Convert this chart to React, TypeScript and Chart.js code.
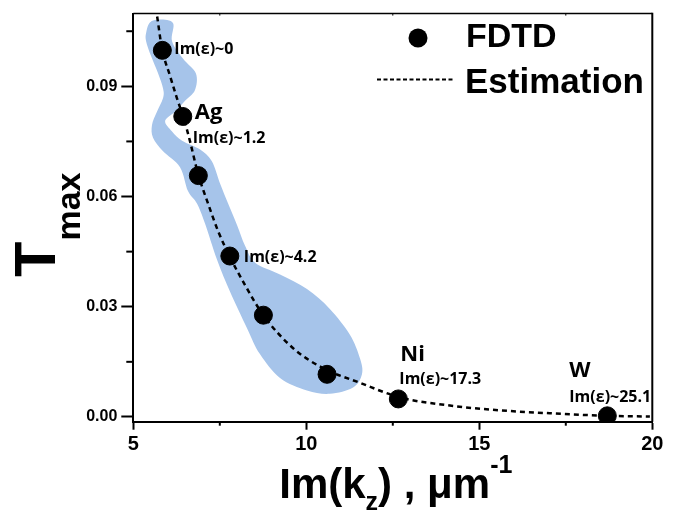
import React, { useEffect, useRef } from "react";
import { Chart, registerables } from "chart.js";

Chart.register(...registerables);

// ---- data ----
const fdtdX = [5.84, 6.43, 6.88, 7.79, 8.76, 10.6, 12.66, 18.7];
const fdtdY = [0.0998, 0.0818, 0.0657, 0.0438, 0.0277, 0.0116, 0.0049, 0.0003];

const estX = [5.69, 5.83, 6.06, 6.26, 6.47, 6.64, 6.87, 7.16, 7.45, 7.8, 8.23, 8.75, 9.62, 10.48, 11.55, 12.71, 14.15, 15.6, 17.04, 18.69, 19.93];
const estY = [0.109, 0.1002, 0.0929, 0.0868, 0.0809, 0.075, 0.0662, 0.0581, 0.0506, 0.0434, 0.0359, 0.0278, 0.0187, 0.0133, 0.0093, 0.0053, 0.0031, 0.0018, 0.001, 0.0003, 0.0001];

// shaded (blue) region outline
const regionX = [5.37, 5.48, 5.77, 6.15, 6.12, 6.44, 6.81, 6.78, 6.49, 6.23, 5.92, 6.12, 6.41, 6.93, 7.27, 7.51, 7.74, 8.0, 8.23, 8.52, 9.24, 10.02, 10.68, 11.26, 11.55, 11.61, 11.35, 10.68, 10.02, 9.24, 8.66, 8.29, 7.8, 7.42, 7.07, 6.84, 6.58, 6.35, 5.86, 5.57, 5.54, 5.68, 5.86, 5.86, 5.71, 5.51, 5.37];
const regionY = [0.1045, 0.1074, 0.1082, 0.1072, 0.1023, 0.0975, 0.0935, 0.0889, 0.086, 0.0833, 0.0806, 0.0777, 0.0752, 0.0728, 0.0696, 0.0635, 0.0581, 0.0522, 0.0466, 0.042, 0.0388, 0.0348, 0.0294, 0.0224, 0.016, 0.0117, 0.008, 0.0063, 0.0072, 0.0106, 0.0171, 0.0241, 0.034, 0.0428, 0.0527, 0.0581, 0.0615, 0.068, 0.0723, 0.076, 0.0795, 0.083, 0.0868, 0.0894, 0.0937, 0.0983, 0.1023];

const xTicks = [5, 10, 15, 20];
const yTicks = [0, 0.03, 0.06, 0.09];
const xMinor = [7.5, 12.5, 17.5];
const yMinor = [0.015, 0.045, 0.075, 0.105];

const seriesNames = ["FDTD", "Estimation"];

// annotation texts, attached to FDTD point index
const annotTexts = ["Im(ε)~0", "Ag", "Im(ε)~1.2", "Im(ε)~4.2", "Ni", "Im(ε)~17.3", "W", "Im(ε)~25.1"];
const annotPoint = [0, 1, 1, 3, 6, 6, 7, 7];

// ---- layout/style (not data) ----
const annotLayout = [
  { dx: 12, dy: 4, size: 16 },
  { dx: 12, dy: 3, size: 22 },
  { dx: 10, dy: 27, size: 16 },
  { dx: 14, dy: 6, size: 16 },
  { dx: 2, dy: -38, size: 22 },
  { dx: 1, dy: -15, size: 16 },
  { dx: -38, dy: -39, size: 22 },
  { dx: -38, dy: -14, size: 16 },
];

const SANS = "'Liberation Sans', Arial, sans-serif";
const ANN = "'Open Sans', 'DejaVu Sans', sans-serif";

function closedSpline(ctx: CanvasRenderingContext2D, pts: number[][]) {
  const n = pts.length;
  ctx.moveTo(pts[0][0], pts[0][1]);
  for (let i = 0; i < n; i++) {
    const p0 = pts[(i - 1 + n) % n];
    const p1 = pts[i];
    const p2 = pts[(i + 1) % n];
    const p3 = pts[(i + 2) % n];
    const c1x = p1[0] + (p2[0] - p0[0]) / 6;
    const c1y = p1[1] + (p2[1] - p0[1]) / 6;
    const c2x = p2[0] - (p3[0] - p1[0]) / 6;
    const c2y = p2[1] - (p3[1] - p1[1]) / 6;
    ctx.bezierCurveTo(c1x, c1y, c2x, c2y, p2[0], p2[1]);
  }
  ctx.closePath();
}

const overlay = {
  id: "overlay",
  beforeDatasetsDraw(chart: any) {
    const { ctx, chartArea, scales } = chart;
    const x = scales.x;
    const y = scales.y;
    const pts = regionX.map((v, i) => [x.getPixelForValue(v), y.getPixelForValue(regionY[i])]);
    ctx.save();
    ctx.beginPath();
    ctx.rect(chartArea.left, chartArea.top, chartArea.right - chartArea.left, chartArea.bottom - chartArea.top);
    ctx.clip();
    ctx.beginPath();
    closedSpline(ctx, pts);
    ctx.fillStyle = "rgb(166,196,234)";
    ctx.fill();
    ctx.restore();
  },
  afterDraw(chart: any) {
    const { ctx, chartArea, scales } = chart;
    const x = scales.x;
    const y = scales.y;
    const { left, right, top, bottom } = chartArea;
    ctx.save();
    // frame top/right
    ctx.strokeStyle = "#000";
    ctx.lineWidth = 1.5;
    ctx.beginPath();
    ctx.moveTo(left, top);
    ctx.lineTo(right, top);
    ctx.stroke();
    ctx.lineWidth = 2;
    ctx.beginPath();
    ctx.moveTo(right, top - 0.75);
    ctx.lineTo(right, bottom);
    ctx.stroke();
    // minor ticks
    ctx.lineWidth = 2;
    xMinor.forEach((v) => {
      const px = x.getPixelForValue(v);
      ctx.beginPath();
      ctx.moveTo(px, bottom);
      ctx.lineTo(px, bottom + 4);
      ctx.stroke();
      ctx.lineWidth = 1;
      ctx.beginPath();
      ctx.moveTo(px, top);
      ctx.lineTo(px, top + 2);
      ctx.stroke();
      ctx.lineWidth = 2;
    });
    yMinor.forEach((v) => {
      const py = y.getPixelForValue(v);
      ctx.beginPath();
      ctx.moveTo(left, py);
      ctx.lineTo(left - 7, py);
      ctx.stroke();
    });

    // annotations
    ctx.fillStyle = "#000";
    ctx.textBaseline = "alphabetic";
    ctx.textAlign = "left";
    annotTexts.forEach((t, i) => {
      const pi = annotPoint[i];
      const lay = annotLayout[i];
      const px = x.getPixelForValue(fdtdX[pi]);
      const py = y.getPixelForValue(fdtdY[pi]);
      ctx.font = `bold ${lay.size}px ${ANN}`;
      ctx.fillText(t, px + lay.dx, py + lay.dy);
    });

    // legend
    ctx.beginPath();
    ctx.arc(418, 38, 9.5, 0, Math.PI * 2);
    ctx.fill();
    ctx.font = `bold 34px ${SANS}`;
    ctx.fillText(seriesNames[0], 466, 47);
    ctx.setLineDash([4, 2.5]);
    ctx.lineWidth = 2;
    ctx.beginPath();
    ctx.moveTo(377, 79.5);
    ctx.lineTo(455, 79.5);
    ctx.stroke();
    ctx.setLineDash([]);
    ctx.font = `bold 35px ${SANS}`;
    ctx.fillText(seriesNames[1], 465, 93);

    // x title: Im(k_z) , μm^-1
    const base = 498;
    const big = `bold 42px ${SANS}`;
    const small = `bold 25px ${SANS}`;
    const parts = [
      { t: "Im(k", f: big, dy: 0 },
      { t: "z", f: small, dy: 12 },
      { t: ") , μm", f: big, dy: 0 },
      { t: "-1", f: small, dy: -25 },
    ];
    let total = 0;
    parts.forEach((p) => {
      ctx.font = p.f;
      total += ctx.measureText(p.t).width;
    });
    let cx = (left + right) / 2 - total / 2 + 3;
    parts.forEach((p) => {
      ctx.font = p.f;
      ctx.fillText(p.t, cx, base + p.dy);
      cx += ctx.measureText(p.t).width;
    });

    // y title: T_max (rotated)
    ctx.save();
    ctx.translate(55, 277);
    ctx.rotate(-Math.PI / 2);
    ctx.font = `bold 58px ${SANS}`;
    ctx.fillText("T", 0, 0);
    const wT = ctx.measureText("T").width;
    ctx.font = `bold 34px ${SANS}`;
    ctx.fillText("max", wT + 1, 25);
    ctx.restore();

    ctx.restore();
  },
};

export default function App() {
  const ref = useRef<HTMLCanvasElement | null>(null);
  useEffect(() => {
    if (!ref.current) return;
    const chart = new Chart(ref.current, {
      type: "scatter",
      data: {
        datasets: [
          {
            label: seriesNames[1],
            type: "line",
            data: estX.map((v, i) => ({ x: v, y: estY[i] })),
            borderColor: "#000",
            borderWidth: 2.5,
            borderDash: [5, 4],
            pointRadius: 0,
            tension: 0.4,
            cubicInterpolationMode: "monotone",
            fill: false,
            order: 1,
          } as any,
          {
            label: seriesNames[0],
            data: fdtdX.map((v, i) => ({ x: v, y: fdtdY[i] })),
            backgroundColor: "#000",
            borderColor: "#000",
            pointRadius: 9,
            pointHoverRadius: 9,
            order: 0,
          },
        ],
      },
      options: {
        animation: false,
        responsive: false,
        events: [],
        plugins: { legend: { display: false }, tooltip: { enabled: false } },
        layout: { padding: { top: 7, right: 25.7, left: 0, bottom: 0 } },
        scales: {
          x: {
            type: "linear",
            min: 5,
            max: 20,
            afterFit: (s: any) => {
              s.height = 90.3;
            },
            afterBuildTicks: (s: any) => {
              s.ticks = xTicks.map((v) => ({ value: v }));
            },
            ticks: {
              font: { family: SANS, size: 20, weight: "bold" },
              color: "#000",
              padding: 3,
              maxRotation: 0,
              autoSkip: false,
              callback: (v: any) => String(v),
            },
            grid: { display: true, drawOnChartArea: false, drawTicks: true, tickLength: 8, tickWidth: 2, tickColor: "#000" },
            border: { display: true, color: "#000", width: 2 },
          },
          y: {
            type: "linear",
            min: -0.0013,
            max: 0.1098,
            afterFit: (s: any) => {
              s.width = 133.3;
            },
            afterBuildTicks: (s: any) => {
              s.ticks = yTicks.map((v) => ({ value: v }));
            },
            ticks: {
              font: { family: SANS, size: 16, weight: "bold" },
              color: "#000",
              padding: 4,
              autoSkip: false,
              callback: (v: any) => Number(v).toFixed(2),
            },
            grid: { display: true, drawOnChartArea: false, drawTicks: true, tickLength: 12, tickWidth: 2, tickColor: "#000" },
            border: { display: true, color: "#000", width: 2 },
          },
        },
      },
      plugins: [overlay],
    } as any);
    return () => chart.destroy();
  }, []);
  return (
    <div style={{ position: "absolute", left: 0, top: 0, width: 678, height: 512, background: "#fff" }}>
      <canvas ref={ref} width={678} height={512} style={{ display: "block" }} />
    </div>
  );
}
